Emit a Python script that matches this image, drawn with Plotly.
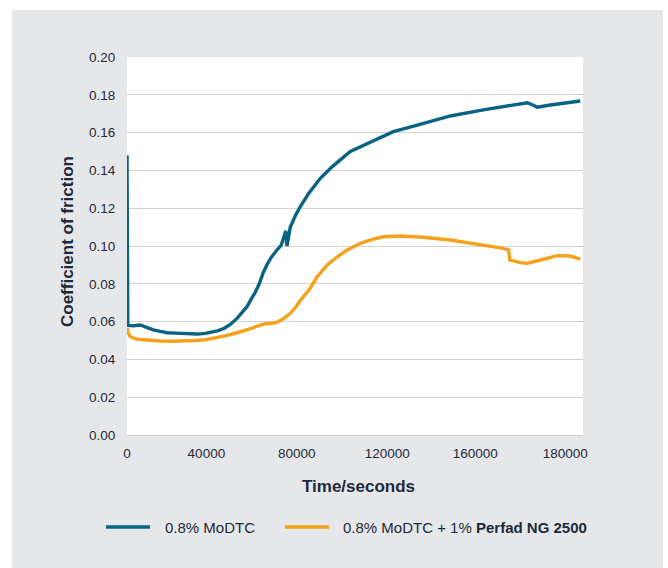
import plotly.graph_objects as go

# Friction test: coefficient of friction over time for two oil blends
SERIES_NAMES = ["0.8% MoDTC", "0.8% MoDTC + 1% <b>Perfad NG 2500</b>"]
SERIES_COLORS = ["#0b6384", "#f6a11c"]

MODTC_TIME = [0, 330, 2590, 5460, 8340, 10800, 13680, 16550, 19840, 23120, 26000,
              28870, 32160, 35030, 37500, 39960, 42430, 45180, 46940, 49280, 51050,
              52690, 54330, 55980, 57620, 59260, 61320, 63370, 65220, 65710, 67070,
              69120, 71170, 74460, 79390, 84320, 91710, 99920, 109370, 119230,
              132780, 146330, 160300, 164400, 166870, 168510, 173850, 180010, 186170]
MODTC_COF = [0.148, 0.058, 0.0578, 0.0582, 0.0568, 0.0556, 0.0548, 0.0541, 0.0539,
             0.0537, 0.0535, 0.0534, 0.0538, 0.0544, 0.0552, 0.0565, 0.0585, 0.0617,
             0.0645, 0.0679, 0.0720, 0.0755, 0.0800, 0.0860, 0.0905, 0.0940, 0.0975,
             0.1005, 0.1080, 0.1000, 0.1100, 0.1160, 0.1208, 0.1275, 0.1358, 0.1420,
             0.1500, 0.1550, 0.1605, 0.1640, 0.1688, 0.1720, 0.1751, 0.1758, 0.1745,
             0.1734, 0.1746, 0.1758, 0.1767]

PERFAD_TIME = [0, 530, 1360, 3410, 5460, 9570, 13680, 18600, 23120, 28050, 32160,
               36260, 40370, 45180, 48590, 51460, 53930, 56390, 58850, 61320, 64190,
               67070, 69530, 71170, 74870, 78160, 82260, 86370, 90480, 95820, 100750,
               105270, 112250, 121690, 132780, 146330, 153310, 156720, 157210, 161530,
               164400, 169880, 176730, 182070, 186170]
PERFAD_COF = [0.0565, 0.054, 0.052, 0.0510, 0.0505, 0.0500, 0.0497, 0.0496, 0.0497,
              0.0500, 0.0504, 0.0512, 0.0524, 0.0541, 0.0553, 0.0565, 0.0578, 0.0588,
              0.0590, 0.0595, 0.0615, 0.0644, 0.0680, 0.0712, 0.0770, 0.0838, 0.0900,
              0.0943, 0.0979, 0.1014, 0.1035, 0.1049, 0.1053, 0.1046, 0.1032, 0.1005,
              0.0990, 0.0979, 0.0926, 0.0912, 0.0908, 0.0926, 0.0949, 0.0947, 0.0930]

X_TICK_TEXT = ["0", "40000", "80000", "120000", "160000", "180000"]
X_TICK_VALS = [0, 32600, 69700, 106900, 143000, 180000]
Y_TICK_VALS = [0.00, 0.02, 0.04, 0.06, 0.08, 0.10, 0.12, 0.14, 0.16, 0.18, 0.20]

W, H = 668, 568
L, R, T, B = 127, 85, 57, 133
PW, PH = W - L - R, H - T - B
FONT = "Liberation Sans, Arial, sans-serif"
TEXT = "#1d2a3c"
GRID = "#d5d4cc"
PANEL = "#e6e7e8"


def px(x):
    return (x - L) / PW


def py(y):
    return (H - B - y) / PH


fig = go.Figure()
for t, c, name, color in [(MODTC_TIME, MODTC_COF, SERIES_NAMES[0], SERIES_COLORS[0]),
                          (PERFAD_TIME, PERFAD_COF, SERIES_NAMES[1], SERIES_COLORS[1])]:
    fig.add_trace(go.Scatter(x=t, y=c, mode="lines", name=name, showlegend=False,
                             line=dict(color=color, width=3.4)))

shapes = [
    # white page border around the grey panel
    dict(type="rect", xref="paper", yref="paper", x0=px(0), x1=px(12), y0=py(H), y1=py(0),
         fillcolor="white", line_width=0, layer="below"),
    dict(type="rect", xref="paper", yref="paper", x0=px(0), x1=px(W), y0=py(10), y1=py(0),
         fillcolor="white", line_width=0, layer="below"),
    dict(type="rect", xref="paper", yref="paper", x0=px(663), x1=px(W), y0=py(H), y1=py(0),
         fillcolor="white", line_width=0, layer="below"),
]
annotations = [
    dict(text="<b>Time/seconds</b>", xref="paper", yref="paper", x=px(358), y=py(486),
         xanchor="center", yanchor="middle",
         showarrow=False, font=dict(size=17, color=TEXT, family=FONT)),
    dict(text="<b>Coefficient of friction</b>", xref="paper", yref="paper", x=px(67), y=py(242),
         xanchor="center", yanchor="middle",
         showarrow=False, textangle=-90, font=dict(size=17, color=TEXT, family=FONT)),
]

# legend drawn as line swatches with labels
legend_items = [(106, 150, 163), (285, 329, 341)]
for (x0, x1, tx), name, color in zip(legend_items, SERIES_NAMES, SERIES_COLORS):
    shapes.append(dict(type="line", xref="paper", yref="paper", x0=px(x0), x1=px(x1),
                       y0=py(527), y1=py(527), line=dict(color=color, width=3.5)))
    annotations.append(dict(text=name, xref="paper", yref="paper", x=px(tx), y=py(527),
                            xanchor="left", yanchor="middle", showarrow=False,
                            font=dict(size=15, color=TEXT, family=FONT)))

fig.update_layout(
    width=W, height=H,
    margin=dict(l=L, r=R, t=T, b=B, pad=0),
    paper_bgcolor=PANEL, plot_bgcolor="white",
    font=dict(family=FONT, color=TEXT, size=13.5),
    shapes=shapes, annotations=annotations,
    xaxis=dict(range=[0, 187280], tickvals=X_TICK_VALS, ticktext=X_TICK_TEXT,
               showgrid=False, zeroline=False, showline=False,
               ticks="outside", ticklen=6, tickcolor="rgba(0,0,0,0)",
               tickfont=dict(size=13.5, color=TEXT, family=FONT)),
    yaxis=dict(range=[0, 0.2], tickvals=Y_TICK_VALS, tickformat=".2f",
               showgrid=True, gridcolor=GRID, gridwidth=1.3,
               zeroline=True, zerolinecolor=GRID, zerolinewidth=1.3, showline=False,
               ticks="outside", ticklen=8, tickcolor="rgba(0,0,0,0)",
               tickfont=dict(size=13.5, color=TEXT, family=FONT)),
)

fig.write_html("out.html")
